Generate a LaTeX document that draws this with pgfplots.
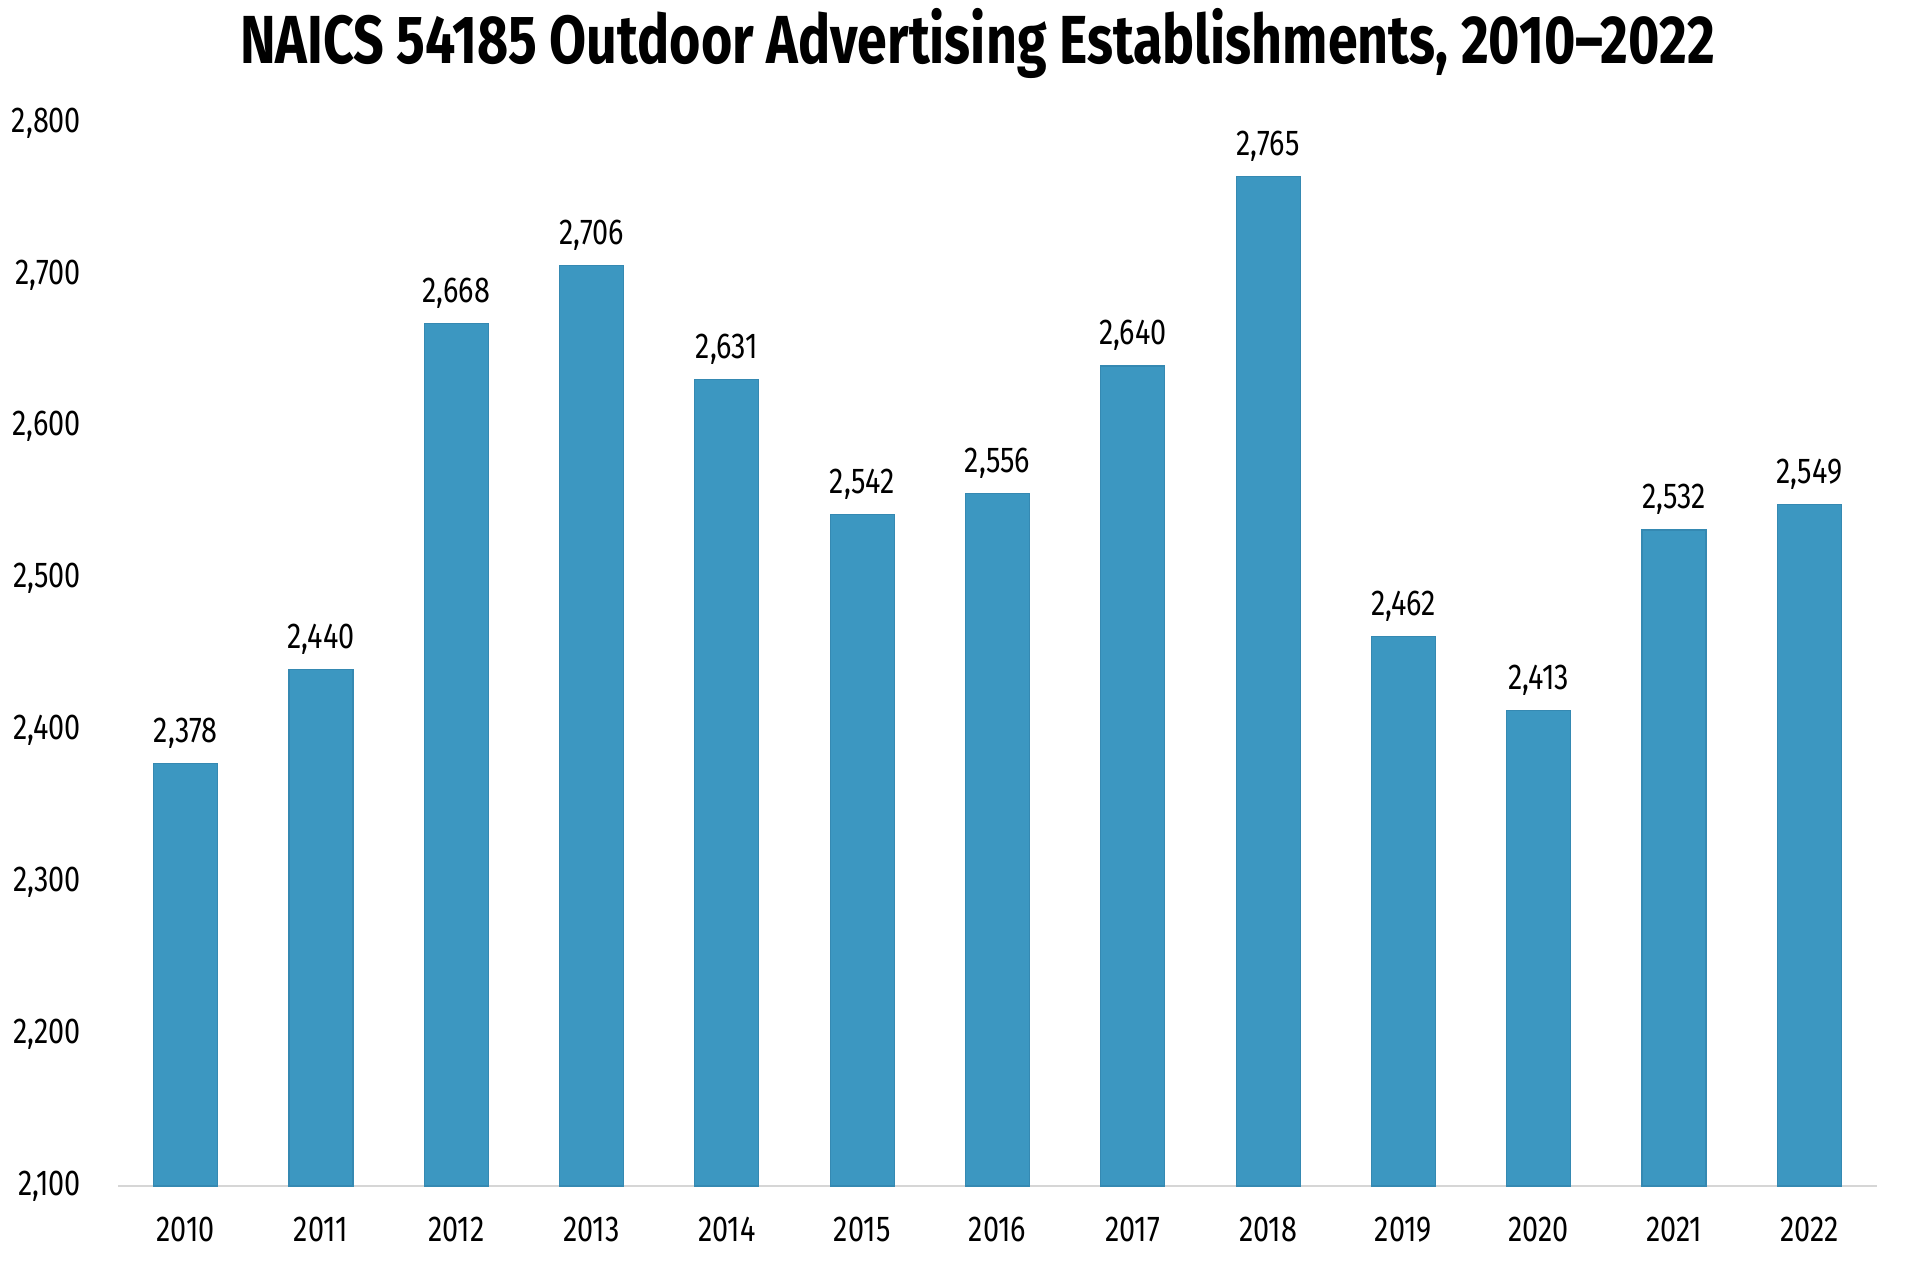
\documentclass[border=0pt]{standalone}
\usepackage{pgfplots}
\pgfplotsset{compat=1.18}
\usepackage{fontspec}
\setmainfont{Fira Sans}[FakeStretch=0.8]
\newfontfamily\titlefont{Fira Sans}[FakeStretch=0.79]
\definecolor{barblue}{HTML}{3C97C1}
\definecolor{baredge}{HTML}{3589B2}
\definecolor{baseline}{HTML}{D6D6D6}
\begin{document}
\begin{tikzpicture}
% page frame: 1920 x 1265 px at 0.25pt per px
\path[use as bounding box] (0,0) rectangle (480pt,316.25pt);
\begin{axis}[
  at={(29.5pt,19.75pt)}, anchor=south west,
  scale only axis,
  width=439.75pt, height=265.75pt,
  xmin=-0.5, xmax=12.5,
  ymin=2100, ymax=2800,
  ytick={2100,2200,...,2800},
  xtick={0,...,12},
  xticklabels={2010,2011,2012,2013,2014,2015,2016,2017,2018,2019,2020,2021,2022},
  separate axis lines,
  axis x line*=bottom,
  axis y line*=left,
  x axis line style={draw=baseline, line width=0.4pt, -},
  y axis line style={draw=none},
  major tick length=0pt,
  tick style={draw=none},
  /pgf/number format/assume math mode=true,
  /pgf/number format/fixed,
  /pgf/number format/precision=0,
  /pgf/number format/1000 sep={,},
  ticklabel style={font=\fontsize{9}{10}\selectfont, text=black},
  yticklabel style={xshift=-5.7pt},
  xticklabel style={yshift=-4.3pt},
  ybar, bar width=16pt,
  nodes near coords,
  every node near coord/.append style={font=\fontsize{9}{10}\selectfont, text=black, yshift=0.3pt},
  clip=false,
]
\addplot[fill=barblue, draw=baredge, line width=0.3pt] coordinates {
  (0,2378) (1,2440) (2,2668) (3,2706) (4,2631) (5,2542) (6,2556)
  (7,2640) (8,2765) (9,2462) (10,2413) (11,2532) (12,2549)
};
\end{axis}
\node[anchor=base, font=\titlefont\bfseries\fontsize{17}{20}\selectfont] at (244.4pt,300.25pt)
  {NAICS 54185 Outdoor Advertising Establishments, 2010–2022};
\end{tikzpicture}
\end{document}
